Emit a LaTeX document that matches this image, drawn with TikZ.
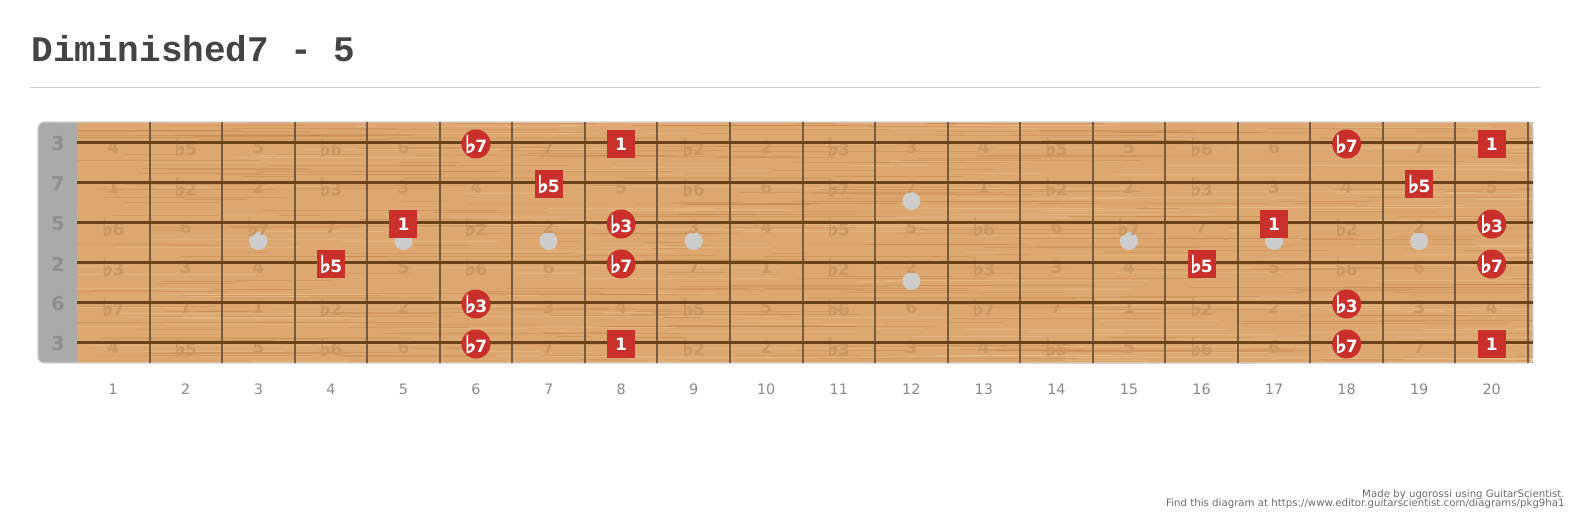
\documentclass[tikz,border=0pt]{standalone}
\usepackage{fontspec}
\setmainfont{DejaVu Sans}
\newfontfamily\titlefont{Liberation Mono}
\newfontfamily\flatfam{DejaVu Sans}[RawFeature={embolden=4}]
\usepackage{tikz}
\usetikzlibrary{positioning}
\definecolor{wood}{HTML}{DCA86F}
\definecolor{grain}{HTML}{B8773E}
\definecolor{light}{HTML}{EBC28E}
\definecolor{strg}{HTML}{6B4318}
\definecolor{fretc}{HTML}{5A4836}
\definecolor{nutc}{HTML}{AAAAAA}
\definecolor{nutink}{HTML}{8E8E8E}
\definecolor{ghostc}{HTML}{C9975F}
\definecolor{dotred}{HTML}{C9302C}
\definecolor{inlay}{HTML}{CDCDCD}
\definecolor{ink}{HTML}{444444}
\definecolor{fretgray}{HTML}{8A8A8A}
% flat sign and interval name from semitones above the root
\newcommand\fl{{\flatfam\mdseries\fontsize{12}{12}\selectfont ♭}\kern-0.4pt}
\newcommand\ivname[1]{\ifcase#1 1\or \fl2\or 2\or \fl3\or 3\or 4\or \fl5\or 5\or \fl6\or 6\or \fl7\or 7\fi}

\begin{document}
\begin{tikzpicture}[x=0.5pt,y=-0.5pt,every node/.style={inner sep=0pt},
  fretnum/.style={font=\fontsize{7.2}{8}\selectfont,text=fretgray},
  ghost/.style={font=\fontsize{8.5}{9}\selectfont\bfseries,text=ghostc},
  nutlabel/.style={font=\fontsize{9.5}{10}\selectfont\bfseries,text=nutink},
  rootbox/.style={fill=dotred,minimum size=14pt,font=\fontsize{8.5}{9}\selectfont\bfseries,text=white},
  tonedot/.style={circle,fill=dotred,minimum size=14.5pt,font=\fontsize{8.5}{9}\selectfont\bfseries,text=white},
  credit/.style={anchor=base east,font=\fontsize{5.1}{6}\selectfont,text=gray!85!black}]
\useasboundingbox (0,0) rectangle (1573,519);
\node[anchor=base west,font=\titlefont\bfseries\fontsize{18}{20}\selectfont,text=ink] (title) at (31,62) {Diminished7 - 5};
\draw[gray!40,line width=0.5pt] (30,88) coordinate (ruleL) -- (1540,88) coordinate (ruleR);
% board
\fill[wood] (77,122) rectangle (1533,363);
\begin{scope}
\clip (77,122) rectangle (1533,363);
\pgfmathsetseed{42}
\foreach \i in {1,...,320}{
  \pgfmathsetmacro\gx{40+rnd*1500}
  \pgfmathsetmacro\gy{122+rnd*241}
  \pgfmathsetmacro\gl{30+rnd*240}
  \draw[grain,line width=0.35pt,opacity=0.3] (\gx,\gy) -- ++(\gl,0);
}
\foreach \i in {1,...,200}{
  \pgfmathsetmacro\gx{40+rnd*1500}
  \pgfmathsetmacro\gy{122+rnd*241}
  \pgfmathsetmacro\gl{30+rnd*240}
  \draw[light,line width=0.5pt,opacity=0.5] (\gx,\gy) -- ++(\gl,0);
}
\end{scope}
\fill[nutc,rounded corners=3pt] (60,122) -- (38,122) -- (38,363) -- (60,363) -- cycle;
\fill[nutc] (55,122) rectangle (77,363);
\draw[gray!75,line width=0.8pt] (38.5,127) -- (38.5,358);
\draw[gray!35,line width=0.6pt,rounded corners=3pt] (38,122) rectangle (1533,363);
% frets and inlays
\foreach \f in {1,...,20}{
  \draw[fretc,line width=1pt,opacity=0.8] ({77+72.55*\f},122) -- ({77+72.55*\f},363);
  \node[fretnum] (fn\f) at ({77+72.55*(\f-0.5)},389) {\f};
}
\foreach \f in {3,5,7,9,15,17,19}
  \fill[inlay] ({77+72.55*(\f-0.5)},241) circle (4.5pt);
\fill[inlay] ({77+72.55*11.5},201) circle (4.5pt) ({77+72.55*11.5},281) circle (4.5pt);
% strings with nut label and faint interval names
\foreach \s/\o/\n in {1/4/3,2/11/7,3/7/5,4/2/2,5/9/6,6/4/3}{
  \node[nutlabel] (n\s) at (58,{142+40*(\s-1)+2}) {\n};
  \foreach \f in {1,...,20}{
    \pgfmathtruncatemacro\iv{mod(\o+\f,12)}
    \node[ghost] (g\s-\f) at ({77+72.55*(\f-0.5)},{142+40*(\s-1)+5}) {\ivname{\iv}};
  }
  \draw[strg,line width=1.5pt] (77,{142+40*(\s-1)}) -- (1533,{142+40*(\s-1)});
}
% chord tones
\foreach \f/\s/\t in {8/1/1,20/1/1,7/2/\fl5,19/2/\fl5,5/3/1,17/3/1,4/4/\fl5,16/4/\fl5,8/6/1,20/6/1}
  \node[rootbox] (m\s-\f) at ({77+72.55*(\f-0.5)},{142+40*(\s-1)+2}) {\t};
\foreach \f/\s/\t in {6/1/\fl7,18/1/\fl7,8/3/\fl3,20/3/\fl3,8/4/\fl7,20/4/\fl7,6/5/\fl3,18/5/\fl3,6/6/\fl7,18/6/\fl7}
  \node[tonedot] (m\s-\f) at ({77+72.55*(\f-0.5)},{142+40*(\s-1)+2}) {\t};
% credit
\node[credit] (made) at (1565,497) {Made by ugorossi using GuitarScientist.};
\node[credit] (find) at (1565,506) {Find this diagram at https://www.editor.guitarscientist.com/diagrams/pkg9ha1};
\end{tikzpicture}
\end{document}
